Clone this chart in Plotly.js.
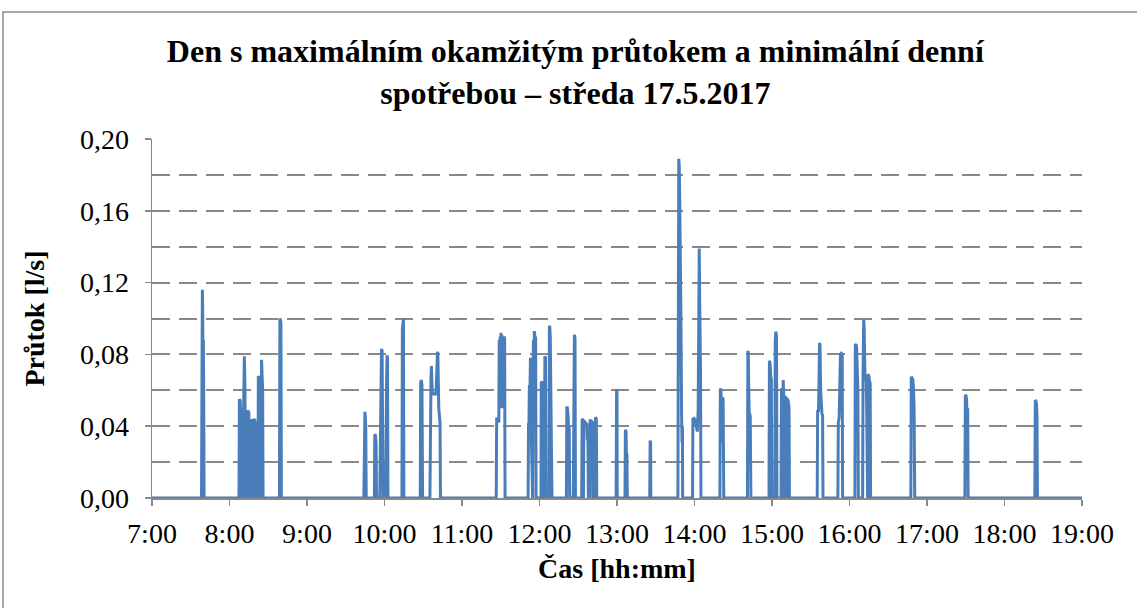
<!DOCTYPE html>
<html>
<head>
<meta charset="utf-8">
<script src="https://cdn.plot.ly/plotly-3.0.1.min.js"></script>
<style>
html,body{margin:0;padding:0;background:#fff;}
#chart{width:1137px;height:608px;}
</style>
</head>
<body>
<div id="chart"></div>
<script>
var datum = '2017-05-17';

var cas = [
'07:00:00',
'07:38:20','07:38:40','07:39:00','07:39:15','07:39:30','07:39:45','07:40:00','07:40:20',
'08:07:20','08:07:40','08:08:20','08:08:40','08:09:00','08:09:20',
'08:10:30','08:10:50','08:11:10','08:11:30','08:12:00','08:12:20',
'08:14:00','08:14:20','08:14:40','08:15:00','08:15:20',
'08:16:20','08:16:40','08:17:00','08:17:20',
'08:18:20','08:18:40','08:19:20','08:20:00','08:20:20',
'08:22:00','08:22:20','08:22:40','08:23:00','08:23:20','08:23:40',
'08:24:30','08:24:50','08:25:20','08:25:40','08:26:00',
'08:38:40','08:39:00','08:39:30','08:39:50','08:40:10',
'09:44:00','09:44:20','09:44:50','09:45:10','09:45:30','09:45:50',
'09:52:10','09:52:30','09:53:00','09:53:30','09:53:50',
'09:56:20','09:56:40','09:57:00','09:57:20','09:57:40','09:58:10','09:58:30','09:58:50',
'10:00:50','10:01:10','10:01:40','10:02:00','10:02:20','10:02:40',
'10:13:30','10:13:50','10:14:10','10:14:40','10:15:00',
'10:27:40','10:28:00','10:28:30','10:29:00','10:29:30',
'10:35:10','10:35:30','10:36:00','10:36:20','10:36:40','10:37:00','10:37:20',
'10:39:30','10:40:00','10:41:00','10:41:20','10:42:00','10:42:30','10:43:00','10:43:20',
'11:26:30','11:26:50','11:27:30','11:28:00','11:28:30','11:28:50','11:29:10','11:29:30','11:29:50',
'11:30:10','11:30:30','11:30:50','11:31:20','11:31:40','11:32:00','11:32:30','11:33:00','11:33:20',
'11:51:10','11:51:30','11:51:50','11:52:10','11:52:40','11:53:00','11:53:30','11:53:50','11:54:10',
'11:54:40','11:55:00','11:55:20','11:55:40','11:56:00','11:56:20','11:56:40','11:57:00','11:57:20',
'12:01:10','12:01:20','12:02:00','12:02:40','12:03:00',
'12:03:40','12:03:50','12:04:10','12:04:40','12:05:00',
'12:07:20','12:07:40','12:08:00','12:08:20','12:08:40','12:09:00','12:09:20','12:09:40',
'12:20:50','12:21:10','12:21:40','12:22:10','12:22:40','12:23:00','12:23:20',
'12:26:10','12:26:30','12:27:00','12:27:30','12:27:50',
'12:32:40','12:33:00','12:33:40','12:34:00','12:34:20','12:35:30','12:36:40','12:37:00','12:37:30','12:37:50',
'12:38:50','12:39:10','12:40:00','12:41:00','12:41:20',
'12:43:00','12:43:20','12:44:00','12:44:20',
'12:59:20','12:59:40','13:00:00','13:00:10',
'13:06:10','13:06:30','13:07:00','13:07:20','13:07:40','13:08:00',
'13:25:20','13:25:40','13:26:00','13:26:10',
'13:47:10','13:47:30','13:47:50','13:48:10','13:48:30','13:49:00','13:49:30','13:50:00','13:50:20','13:50:40','13:50:50',
'13:58:30','13:58:45','13:59:40','14:00:40','14:01:30','14:02:10','14:02:50','14:03:20','14:03:40','14:04:00','14:04:20','14:04:40','14:05:00',
'14:19:40','14:20:00','14:20:30','14:21:00','14:21:20','14:21:40','14:22:10','14:22:40',
'14:41:00','14:41:20','14:41:40','14:42:00','14:42:30','14:42:50','14:43:10','14:43:40',
'14:57:40','14:58:00','14:58:30','14:59:00','14:59:30','14:59:50',
'15:02:10','15:02:30','15:03:00','15:03:30','15:03:50',
'15:07:00','15:07:20','15:07:50','15:08:10','15:08:20','15:08:40','15:09:00','15:09:20','15:09:30','15:09:50',
'15:10:00','15:10:10','15:10:30','15:10:40','15:10:50','15:11:10','15:11:20','15:11:30','15:11:50',
'15:12:00','15:12:10','15:12:30','15:12:40','15:12:50','15:13:10','15:13:30',
'15:35:00','15:35:20','15:36:00','15:36:50','15:37:10','15:37:40','15:38:10','15:38:40','15:39:10','15:39:30',
'15:51:00','15:51:20','15:52:00','15:53:00','15:53:40','15:54:20','15:54:40',
'16:04:10','16:04:30','16:05:00','16:05:30','16:06:00','16:06:30','16:06:50',
'16:10:10','16:10:30','16:11:00','16:11:20','16:11:40','16:12:00','16:12:40','16:13:00','16:13:20','16:13:40',
'16:14:00','16:14:20','16:15:00','16:15:30','16:16:00','16:16:20',
'16:47:30','16:47:50','16:48:20','16:49:00','16:49:30','16:50:00','16:50:30',
'17:29:20','17:29:40','17:30:10','17:30:40','17:31:00','17:31:30','17:31:50',
'18:23:30','18:23:50','18:24:20','18:24:50','18:25:10','18:25:30',
'19:00:00'
];

var prutok = [
0,
0,0.062,0.116,0.105,0.072,0.088,0.062,0,
0,0.055,0.054,0.044,0.050,0,
0,0.045,0.063,0.079,0.060,0,
0,0.049,0.044,0.048,0,
0,0.044,0.040,0,
0,0.043,0.044,0.042,0,
0,0.068,0.067,0.050,0.068,0,
0,0.077,0.070,0.060,0,
0,0.100,0.099,0.097,0,
0,0.048,0.048,0.045,0.040,0,
0,0.0355,0.035,0.030,0,
0,0.035,0.036,0.081,0.083,0.082,0.060,0,
0,0.067,0.068,0.0795,0.078,0,
0,0.094,0.100,0.100,0,
0,0.064,0.0657,0.063,0,
0,0.066,0.067,0.0735,0.060,0.058,0.058,
0.058,0.060,0.0815,0.080,0.050,0.045,0.042,0,
0,0.044,0.044,0.043,0.042,0.088,0.060,0.090,0.050,
0.092,0.070,0.091,0.060,0.085,0.050,0.090,0.089,0,
0,0.041,0.041,0.063,0.062,0.078,0.077,0.030,0,
0,0.070,0.088,0.060,0.093,0.091,0.050,0.090,0,
0,0.064,0.065,0.060,0,
0,0.070,0.079,0.078,0,
0,0.096,0.095,0.090,0.053,0.054,0.033,0,
0,0.051,0.050,0.045,0.035,0.040,0,
0,0.075,0.091,0.089,0,
0,0.044,0.0435,0,0.043,0.042,0.041,0.033,0.033,0,
0,0.043,0.043,0.042,0,
0,0.045,0.044,0,
0,0.0605,0.060,0,
0,0.038,0.037,0.020,0.025,0,
0,0.032,0.031,0,
0,0.100,0.189,0.185,0.170,0.146,0.100,0.047,0.031,0.040,0,
0,0.044,0.0444,0.043,0.040,0.037,0.0487,0.090,0.139,0.110,0.090,0.070,0,
0,0.061,0.060,0.045,0.031,0.056,0.055,0,
0,0.082,0.081,0.060,0.042,0.047,0.045,0,
0,0.0765,0.075,0.068,0.066,0,
0,0.088,0.0927,0.090,0,
0,0.061,0.060,0,0.062,0.0657,0.058,0,0.057,0.056,
0,0.056,0.056,0,0.056,0.055,0,0.055,0.055,
0,0.054,0.054,0,0.053,0.050,0,
0,0.049,0.048,0.0865,0.085,0.060,0.048,0.047,0.046,0,
0,0.042,0.045,0.080,0.0806,0.080,0,
0,0.085,0.0858,0.084,0.070,0.060,0,
0,0.070,0.0995,0.095,0.080,0.0676,0.066,0.065,0.050,0,
0,0.069,0.068,0.065,0.064,0,
0,0.0676,0.067,0.066,0.062,0.050,0,
0,0.0574,0.057,0.055,0.043,0.050,0,
0,0.0546,0.054,0.052,0.045,0,
0
];

var yTickVals = [0, 0.04, 0.08, 0.12, 0.16, 0.20];
var yTickText = ['0,00', '0,04', '0,08', '0,12', '0,16', '0,20'];

var titleText = 'Den s maximálním okamžitým průtokem a minimální denní<br>spotřebou – středa 17.5.2017';
var xTitle = 'Čas [hh:mm]';
var yTitle = 'Průtok [l/s]';

var x = cas.map(function(t){ return datum + ' ' + t; });

var serif = 'Liberation Serif, Times New Roman, serif';
var gridCol = '#898989';

var trace = {
  x: x, y: prutok, type: 'scatter', mode: 'lines',
  line: {color: '#4a7ebb', width: 3},
  hoverinfo: 'x+y', showlegend: false
};

var layout = {
  width: 1137, height: 608,
  margin: {l: 152, r: 55, t: 139, b: 110, pad: 0},
  paper_bgcolor: '#ffffff', plot_bgcolor: '#ffffff',
  font: {family: serif, color: '#000000', size: 28},
  title: {
    text: titleText,
    font: {family: serif, size: 32, color: '#000000', weight: 'bold'},
    x: 0.506, xref: 'container', xanchor: 'center',
    y: 1 - 62 / 608, yref: 'container', yanchor: 'middle'
  },
  xaxis: {
    type: 'date',
    range: [datum + ' 07:00:00', datum + ' 19:00:00'],
    dtick: 3600000, tick0: datum + ' 07:00:00',
    tickformat: '%-H:%M',
    showgrid: false, zeroline: false,
    showline: true, linecolor: gridCol, linewidth: 1.5,
    ticks: 'outside', ticklen: 6, tickcolor: gridCol, tickwidth: 1.5,
    tickfont: {family: serif, size: 28, color: '#000'},
    ticklabelstandoff: 4,
    title: {text: xTitle, font: {family: serif, size: 28, color: '#000', weight: 'bold'}, standoff: 10}
  },
  yaxis: {
    range: [0, 0.2],
    tickvals: yTickVals, ticktext: yTickText,
    showgrid: true, gridcolor: gridCol, gridwidth: 2, griddash: '18px,9px',
    minor: {dtick: 0.02, tick0: 0, showgrid: true, gridcolor: gridCol, gridwidth: 2, griddash: '18px,9px', ticks: ''},
    zeroline: false,
    showline: true, linecolor: gridCol, linewidth: 1.5,
    ticks: 'outside', ticklen: 6, tickcolor: gridCol, tickwidth: 1.5,
    tickfont: {family: serif, size: 28, color: '#000'},
    ticklabelstandoff: 10,
    title: {text: yTitle, font: {family: serif, size: 28, color: '#000', weight: 'bold'}, standoff: 27}
  },
  shapes: [{
    type: 'rect', xref: 'paper', yref: 'paper',
    x0: (3 - 152) / 930, x1: (1140 - 152) / 930,
    y0: (498 - 612) / 359, y1: (498 - 12) / 359,
    line: {color: '#8c8c8c', width: 1.5}, fillcolor: 'rgba(0,0,0,0)', layer: 'below'
  }]
};

Plotly.newPlot('chart', [trace], layout, {displayModeBar: false, staticPlot: true});
</script>
</body>
</html>
